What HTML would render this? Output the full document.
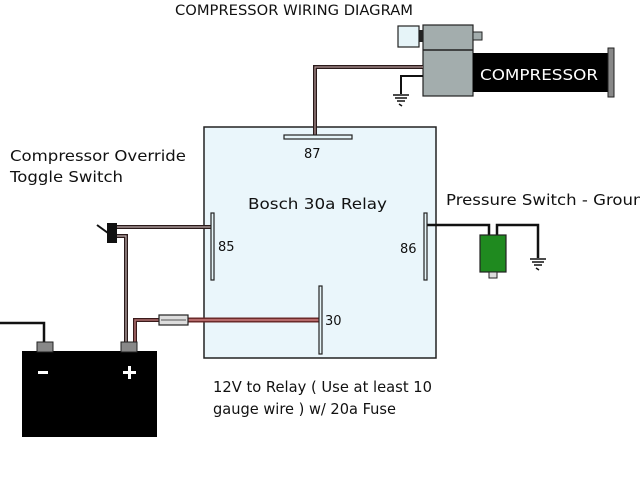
<!DOCTYPE html>
<html><head><style>
html,body{margin:0;padding:0;background:#fff;}
svg{display:block;}
text{font-family:"DejaVu Sans","Liberation Sans",sans-serif;}
</style></head><body>
<svg width="640" height="480" viewBox="0 0 640 480" xmlns="http://www.w3.org/2000/svg">
<rect width="640" height="480" fill="#fff"/>
<text x="175" y="15" font-size="14" fill="#111" font-family="Liberation Sans" textLength="238" lengthAdjust="spacingAndGlyphs">COMPRESSOR WIRING DIAGRAM</text>
<rect x="204" y="127" width="232" height="231" fill="#eaf6fb" stroke="#222" stroke-width="1.5"/>
<rect x="398" y="26" width="21" height="21" fill="#e6f4f8" stroke="#222" stroke-width="1.2"/>
<rect x="419" y="30" width="5" height="12" fill="#222"/>
<rect x="423" y="25" width="50" height="71" fill="#a3adad" stroke="#222" stroke-width="1.2"/>
<line x1="423" y1="50" x2="473" y2="50" stroke="#222" stroke-width="1.5"/>
<rect x="473" y="32" width="9" height="8" fill="#a3adad" stroke="#222" stroke-width="1"/>
<rect x="473" y="53" width="136" height="39" fill="#000"/>
<rect x="608" y="48" width="6" height="49" fill="#888" stroke="#222" stroke-width="1"/>
<text x="480" y="80" font-size="15" fill="#fff" font-family="Liberation Sans" textLength="118" lengthAdjust="spacingAndGlyphs">COMPRESSOR</text>
<g fill="none" stroke-linejoin="miter">
<path d="M315,136 V67 H423" stroke="#2a1a1a" stroke-width="4"/>
<path d="M315,136 V67 H423" stroke="#b49a9a" stroke-width="1.2"/>
<path d="M423,76 H401 V94" stroke="#111" stroke-width="2"/>
<path d="M117,227 H212" stroke="#2a1a1a" stroke-width="4"/>
<path d="M117,227 H212" stroke="#c0b0b0" stroke-width="1.2"/>
<path d="M117,236 H126 V343" stroke="#2a1a1a" stroke-width="4"/>
<path d="M117,236 H126 V343" stroke="#c0b0b0" stroke-width="1.2"/>
<path d="M135,343 V320 H160" stroke="#3a1a1a" stroke-width="4"/>
<path d="M135,343 V320 H160" stroke="#b07070" stroke-width="1.5"/>
<path d="M188,320 H319" stroke="#6b2a2a" stroke-width="5"/>
<path d="M188,320 H319" stroke="#d08080" stroke-width="1.5"/>
<path d="M0,323 H44 V343" stroke="#111" stroke-width="2.5"/>
<path d="M427,225 H489 V236" stroke="#111" stroke-width="2.5"/>
<path d="M497,236 V225 H538 V258" stroke="#111" stroke-width="2.5"/>
</g>
<g stroke="#111" stroke-width="1.5">
<line x1="393" y1="95" x2="409" y2="95"/><line x1="395" y1="98" x2="407" y2="98"/><line x1="397" y1="101" x2="405" y2="101"/><line x1="399" y1="104" x2="402" y2="106"/>
<line x1="530" y1="259" x2="546" y2="259"/><line x1="532" y1="262" x2="544" y2="262"/><line x1="534" y1="265" x2="542" y2="265"/><line x1="536" y1="268" x2="539" y2="270"/>
</g>
<rect x="284" y="135" width="68" height="4" fill="#e6f4f8" stroke="#222" stroke-width="1.2"/>
<rect x="211" y="213" width="3" height="67" fill="#e6f4f8" stroke="#222" stroke-width="1.2"/>
<rect x="424" y="213" width="3" height="67" fill="#e6f4f8" stroke="#222" stroke-width="1.2"/>
<rect x="319" y="286" width="3" height="68" fill="#e6f4f8" stroke="#222" stroke-width="1.2"/>
<rect x="159" y="315" width="29" height="10" fill="#ddd" stroke="#222" stroke-width="1.2"/>
<line x1="161" y1="320" x2="186" y2="320" stroke="#555" stroke-width="1"/>
<rect x="107" y="223" width="10" height="20" fill="#111"/>
<line x1="97" y1="225" x2="108" y2="233" stroke="#111" stroke-width="2"/>
<rect x="480" y="235" width="26" height="37" fill="#1f8a1f" stroke="#222" stroke-width="1.2"/>
<rect x="489" y="272" width="8" height="6" fill="#ddd" stroke="#222" stroke-width="1"/>
<rect x="22" y="351" width="135" height="86" fill="#000"/>
<rect x="37" y="342" width="16" height="10" fill="#888" stroke="#222" stroke-width="1"/>
<rect x="121" y="342" width="16" height="10" fill="#888" stroke="#222" stroke-width="1"/>
<rect x="38" y="371" width="10" height="3" fill="#fff"/>
<rect x="123" y="371" width="13" height="3" fill="#fff"/>
<rect x="128" y="366" width="3" height="13" fill="#fff"/>
<text x="304" y="158" font-size="13" fill="#111">87</text>
<text x="248" y="209" font-size="15" fill="#111" textLength="139" lengthAdjust="spacingAndGlyphs">Bosch 30a Relay</text>
<text x="218" y="251" font-size="13" fill="#111">85</text>
<text x="400" y="253" font-size="13" fill="#111">86</text>
<text x="325" y="325" font-size="13" fill="#111">30</text>
<text x="10" y="161" font-size="15" fill="#111" textLength="176" lengthAdjust="spacingAndGlyphs">Compressor Override</text>
<text x="10" y="182" font-size="15" fill="#111" textLength="113" lengthAdjust="spacingAndGlyphs">Toggle Switch</text>
<text x="446" y="205" font-size="15" fill="#111" textLength="208" lengthAdjust="spacingAndGlyphs">Pressure Switch - Ground</text>
<text x="213" y="392" font-size="15" fill="#111" textLength="219" lengthAdjust="spacingAndGlyphs">12V to Relay ( Use at least 10</text>
<text x="213" y="414" font-size="15" fill="#111" textLength="183" lengthAdjust="spacingAndGlyphs">gauge wire ) w/ 20a Fuse</text>
</svg>
</body></html>
